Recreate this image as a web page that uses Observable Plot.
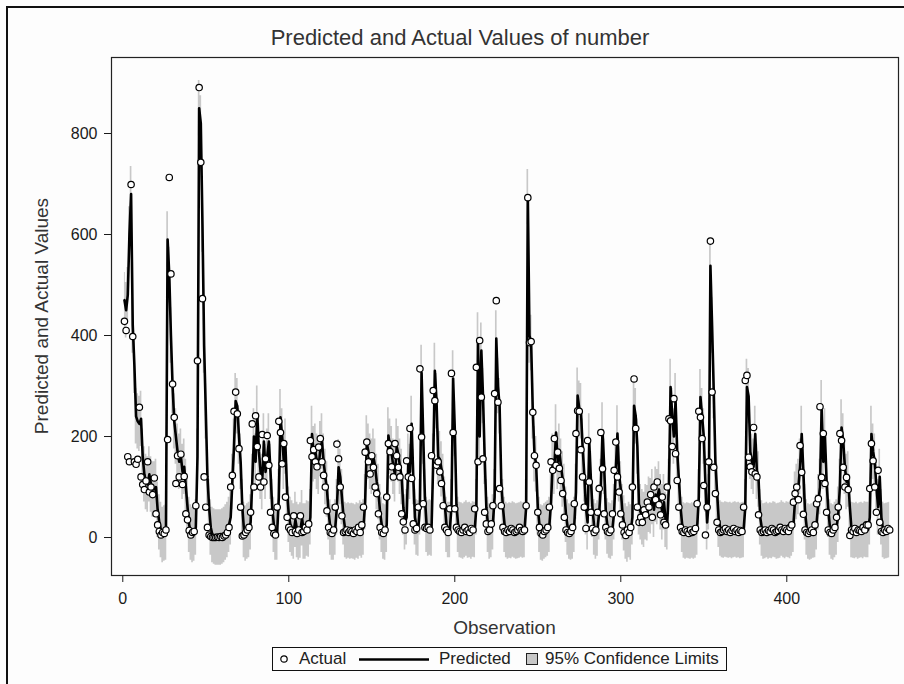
<!DOCTYPE html>
<html>
<head>
<meta charset="utf-8">
<script src="https://cdn.jsdelivr.net/npm/d3@7"></script>
<script src="https://cdn.jsdelivr.net/npm/@observablehq/plot@0.6"></script>
<style>
  html, body { margin: 0; padding: 0; background: #fdfdfd; overflow: hidden; }
  #page { position: relative; width: 904px; height: 684px; overflow: hidden;
          font-family: "Liberation Sans", Arial, sans-serif; color: #1a1a1a; }
  #outer { position: absolute; left: 6px; top: 6px; width: 1000px; height: 1000px;
           border: 2px solid #111; box-sizing: border-box; }
  #chart { position: absolute; left: 0; top: 0; }
  .txt { position: absolute; white-space: nowrap; }
  #title { left: 0; width: 920px; top: 25px; text-align: center; font-size: 22px; line-height: 26px; color: #333; }
  #xlabel { left: 111px; width: 787px; top: 617px; text-align: center; font-size: 19px; line-height: 22px; color: #333; }
  #ylabel { left: 42px; top: 316px; font-size: 19px; line-height: 22px; color: #333;
            transform: translate(-50%, -50%) rotate(-90deg); }
  #legend { position: absolute; left: 272px; top: 647px; width: 455px; height: 24px;
            border: 1px solid #111; box-sizing: border-box; font-size: 17px; line-height: 22px; color: #222; }
  #legend .txt { top: 0; }
</style>
</head>
<body>
<div id="page">
  <div id="outer"></div>
  <div id="title" class="txt">Predicted and Actual Values of number</div>
  <div id="chart"></div>
  <div id="xlabel" class="txt">Observation</div>
  <div id="ylabel" class="txt">Predicted and Actual Values</div>
  <div id="legend">
    <svg width="455" height="24" style="position:absolute;left:0;top:0">
      <circle cx="11" cy="11" r="3.2" fill="white" stroke="black" stroke-width="1.2"></circle>
      <line x1="86" x2="156" y1="11.5" y2="11.5" stroke="black" stroke-width="2.6"></line>
      <rect x="253.5" y="5.5" width="11" height="11" fill="#c8c8c8" stroke="#222" stroke-width="1"></rect>
    </svg>
    <span class="txt" style="left:26px">Actual</span>
    <span class="txt" style="left:166px">Predicted</span>
    <span class="txt" style="left:272px">95% Confidence Limits</span>
  </div>
</div>
<script>
// Observed series, one value per observation (1..462)
const actual = [
  428, 410, 160, 150, 699, 398, 150, 145, 155, 258,
  120, 105, 95, 112, 150, 90, 100, 85, 118, 47,
  25, 12, 5, 10, 8, 15, 194, 713, 522, 304,
  238, 107, 162, 120, 165, 105, 121, 47, 35, 14,
  5, 10, 12, 63, 350, 891, 743, 473, 120, 60,
  20, 5, 2, 0, 0, 0, 1, 0, 2, 0,
  3, 5, 10, 20, 100, 123, 250, 288, 245, 176,
  60, 3, 5, 10, 15, 20, 50, 225, 100, 241,
  180, 120, 100, 204, 110, 156, 202, 143, 50, 20,
  8, 5, 60, 230, 208, 146, 186, 80, 40, 20,
  15, 10, 43, 12, 8, 15, 43, 10, 12, 20,
  15, 27, 192, 160, 174, 150, 140, 179, 196, 150,
  123, 100, 53, 20, 10, 8, 15, 60, 185, 156,
  100, 43, 10, 12, 15, 10, 14, 12, 8, 15,
  12, 20, 10, 25, 60, 169, 189, 150, 126, 162,
  139, 100, 87, 47, 20, 10, 8, 15, 80, 186,
  170, 140, 120, 186, 162, 139, 120, 47, 31, 15,
  152, 120, 216, 117, 27, 15, 18, 60, 334, 199,
  67, 20, 18, 20, 15, 162, 291, 271, 143, 150,
  130, 107, 63, 20, 15, 10, 57, 325, 208, 57,
  20, 15, 12, 10, 15, 20, 12, 15, 10, 18,
  15, 57, 337, 150, 390, 278, 156, 50, 27, 12,
  15, 27, 63, 285, 469, 268, 97, 63, 20, 12,
  10, 15, 12, 18, 15, 10, 12, 15, 20, 14,
  12, 15, 63, 673, 386, 388, 248, 162, 143, 50,
  20, 8, 5, 12, 15, 20, 60, 150, 133, 196,
  143, 169, 137, 113, 87, 40, 15, 10, 8, 12,
  20, 67, 206, 251, 250, 174, 120, 60, 18, 192,
  110, 50, 18, 10, 15, 50, 97, 208, 136, 47,
  20, 12, 10, 15, 47, 133, 189, 120, 90, 47,
  25, 10, 4, 15, 10, 20, 100, 314, 216, 60,
  30, 40, 30, 55, 45, 70, 60, 85, 40, 100,
  75, 110, 65, 45, 80, 30, 25, 100, 235, 231,
  180, 275, 166, 113, 60, 20, 12, 10, 15, 12,
  8, 15, 10, 12, 18, 67, 250, 238, 196, 103,
  5, 60, 150, 587, 288, 139, 87, 30, 15, 10,
  12, 15, 18, 12, 15, 10, 14, 18, 12, 15,
  10, 14, 12, 60, 311, 321, 159, 140, 130, 218,
  126, 120, 45, 15, 10, 12, 15, 10, 14, 12,
  18, 15, 10, 12, 14, 20, 15, 12, 18, 15,
  12, 20, 25, 70, 87, 100, 75, 182, 129, 46,
  15, 10, 8, 12, 15, 10, 25, 67, 77, 259,
  119, 206, 107, 50, 15, 10, 8, 15, 20, 40,
  60, 206, 192, 139, 100, 119, 95, 4, 15, 12,
  18, 10, 15, 14, 12, 20, 15, 25, 25, 97,
  186, 152, 100, 50, 133, 30, 12, 10, 15, 12,
  18, 15
];

// Model predictions for the same observations
const predicted = [
  470, 450, 480, 600, 680, 420, 340, 240, 230, 225,
  235, 160, 125, 110, 105, 125, 105, 95, 95, 100,
  55, 30, 15, 5, 8, 10, 590, 520, 400, 300,
  230, 200, 170, 150, 160, 130, 140, 100, 60, 25,
  10, 5, 8, 20, 160, 850, 820, 620, 380, 250,
  120, 60, 20, 5, 2, 0, 0, 0, 0, 2,
  5, 10, 15, 25, 40, 110, 180, 270, 260, 200,
  150, 60, 15, 8, 12, 15, 30, 110, 200, 150,
  245, 170, 130, 110, 190, 130, 160, 190, 130, 60,
  25, 10, 10, 80, 238, 200, 150, 180, 90, 45,
  25, 18, 12, 35, 15, 10, 14, 38, 12, 12,
  18, 16, 40, 205, 165, 170, 150, 140, 175, 190,
  150, 120, 95, 50, 20, 10, 10, 20, 60, 139,
  120, 80, 40, 15, 12, 14, 12, 13, 12, 10,
  14, 12, 18, 14, 20, 70, 186, 170, 150, 140,
  160, 140, 110, 90, 50, 25, 12, 10, 25, 202,
  180, 165, 140, 125, 180, 165, 140, 120, 60, 30,
  40, 150, 130, 225, 120, 40, 20, 18, 60, 326,
  200, 80, 25, 18, 20, 18, 150, 330, 270, 160,
  155, 135, 110, 65, 25, 15, 15, 60, 315, 215,
  65, 25, 15, 14, 12, 15, 18, 14, 15, 12,
  16, 15, 60, 390, 200, 370, 280, 160, 60, 25,
  12, 15, 30, 80, 394, 300, 260, 110, 60, 25,
  15, 12, 14, 13, 16, 14, 12, 13, 14, 16,
  14, 15, 60, 674, 400, 385, 250, 165, 145, 60,
  25, 10, 8, 12, 15, 18, 25, 70, 150, 140,
  208, 150, 170, 140, 115, 90, 45, 20, 12, 10,
  12, 25, 90, 281, 255, 250, 180, 125, 60, 30,
  190, 115, 55, 20, 12, 18, 50, 100, 212, 140,
  50, 22, 14, 12, 18, 50, 135, 206, 125, 95,
  50, 28, 12, 6, 15, 10, 40, 261, 240, 180,
  60, 50, 40, 35, 50, 48, 65, 62, 80, 55,
  85, 80, 95, 70, 50, 70, 35, 30, 100, 298,
  240, 200, 270, 170, 115, 60, 25, 14, 12, 14,
  13, 12, 14, 12, 14, 20, 80, 278, 240, 200,
  105, 30, 70, 538, 420, 290, 150, 90, 35, 18,
  15, 14, 16, 15, 14, 15, 13, 15, 16, 14,
  15, 13, 14, 15, 60, 298, 280, 170, 150, 140,
  205, 130, 115, 40, 18, 12, 13, 15, 12, 14,
  13, 16, 15, 12, 13, 14, 18, 15, 13, 16,
  15, 13, 18, 25, 75, 90, 100, 140, 205, 130,
  50, 20, 12, 10, 12, 14, 15, 30, 70, 100,
  256, 150, 200, 110, 55, 20, 12, 10, 15, 20,
  45, 100, 218, 190, 140, 110, 115, 60, 15, 14,
  13, 15, 12, 14, 15, 13, 16, 15, 15, 40,
  205, 170, 150, 100, 60, 120, 40, 15, 12, 13,
  14, 15
];

// Standard error of a prediction and the 95% normal quantile
const predictionStdErr = 28;
const z95 = 1.96;

const xTicks = [0, 100, 200, 300, 400];
const yTicks = [0, 200, 400, 600, 800];

const rows = predicted.map((p, i) => ({
  obs: i + 1,
  actual: actual[i],
  predicted: p,
  lower: p - z95 * predictionStdErr,
  upper: p + z95 * predictionStdErr
}));

const chart = Plot.plot({
  width: 904,
  height: 640,
  marginLeft: 111,
  marginRight: 6,
  marginTop: 57,
  marginBottom: 65,
  style: { fontFamily: "'Liberation Sans', Arial, sans-serif", background: "transparent", color: "#1a1a1a" },
  x: { domain: [-6.8, 467.3] },
  y: { domain: [-75.2, 950.5] },
  marks: [
    Plot.areaY(rows, { x: "obs", y1: "lower", y2: "upper", fill: "#c8c8c8", curve: "step" }),
    Plot.lineY(rows, { x: "obs", y: "predicted", stroke: "black", strokeWidth: 2.6 }),
    Plot.dot(rows, { x: "obs", y: "actual", r: 3.2, stroke: "black", strokeWidth: 1.2, fill: "white" }),
    Plot.frame({ stroke: "#222", strokeWidth: 1.2 }),
    Plot.axisX({ ticks: xTicks, tickSize: 7, tickPadding: 10, label: null, fontSize: 16 }),
    Plot.axisY({ ticks: yTicks, tickSize: 7, tickPadding: 7, label: null, fontSize: 16 })
  ]
});
document.getElementById("chart").appendChild(chart);
</script>
</body>
</html>
